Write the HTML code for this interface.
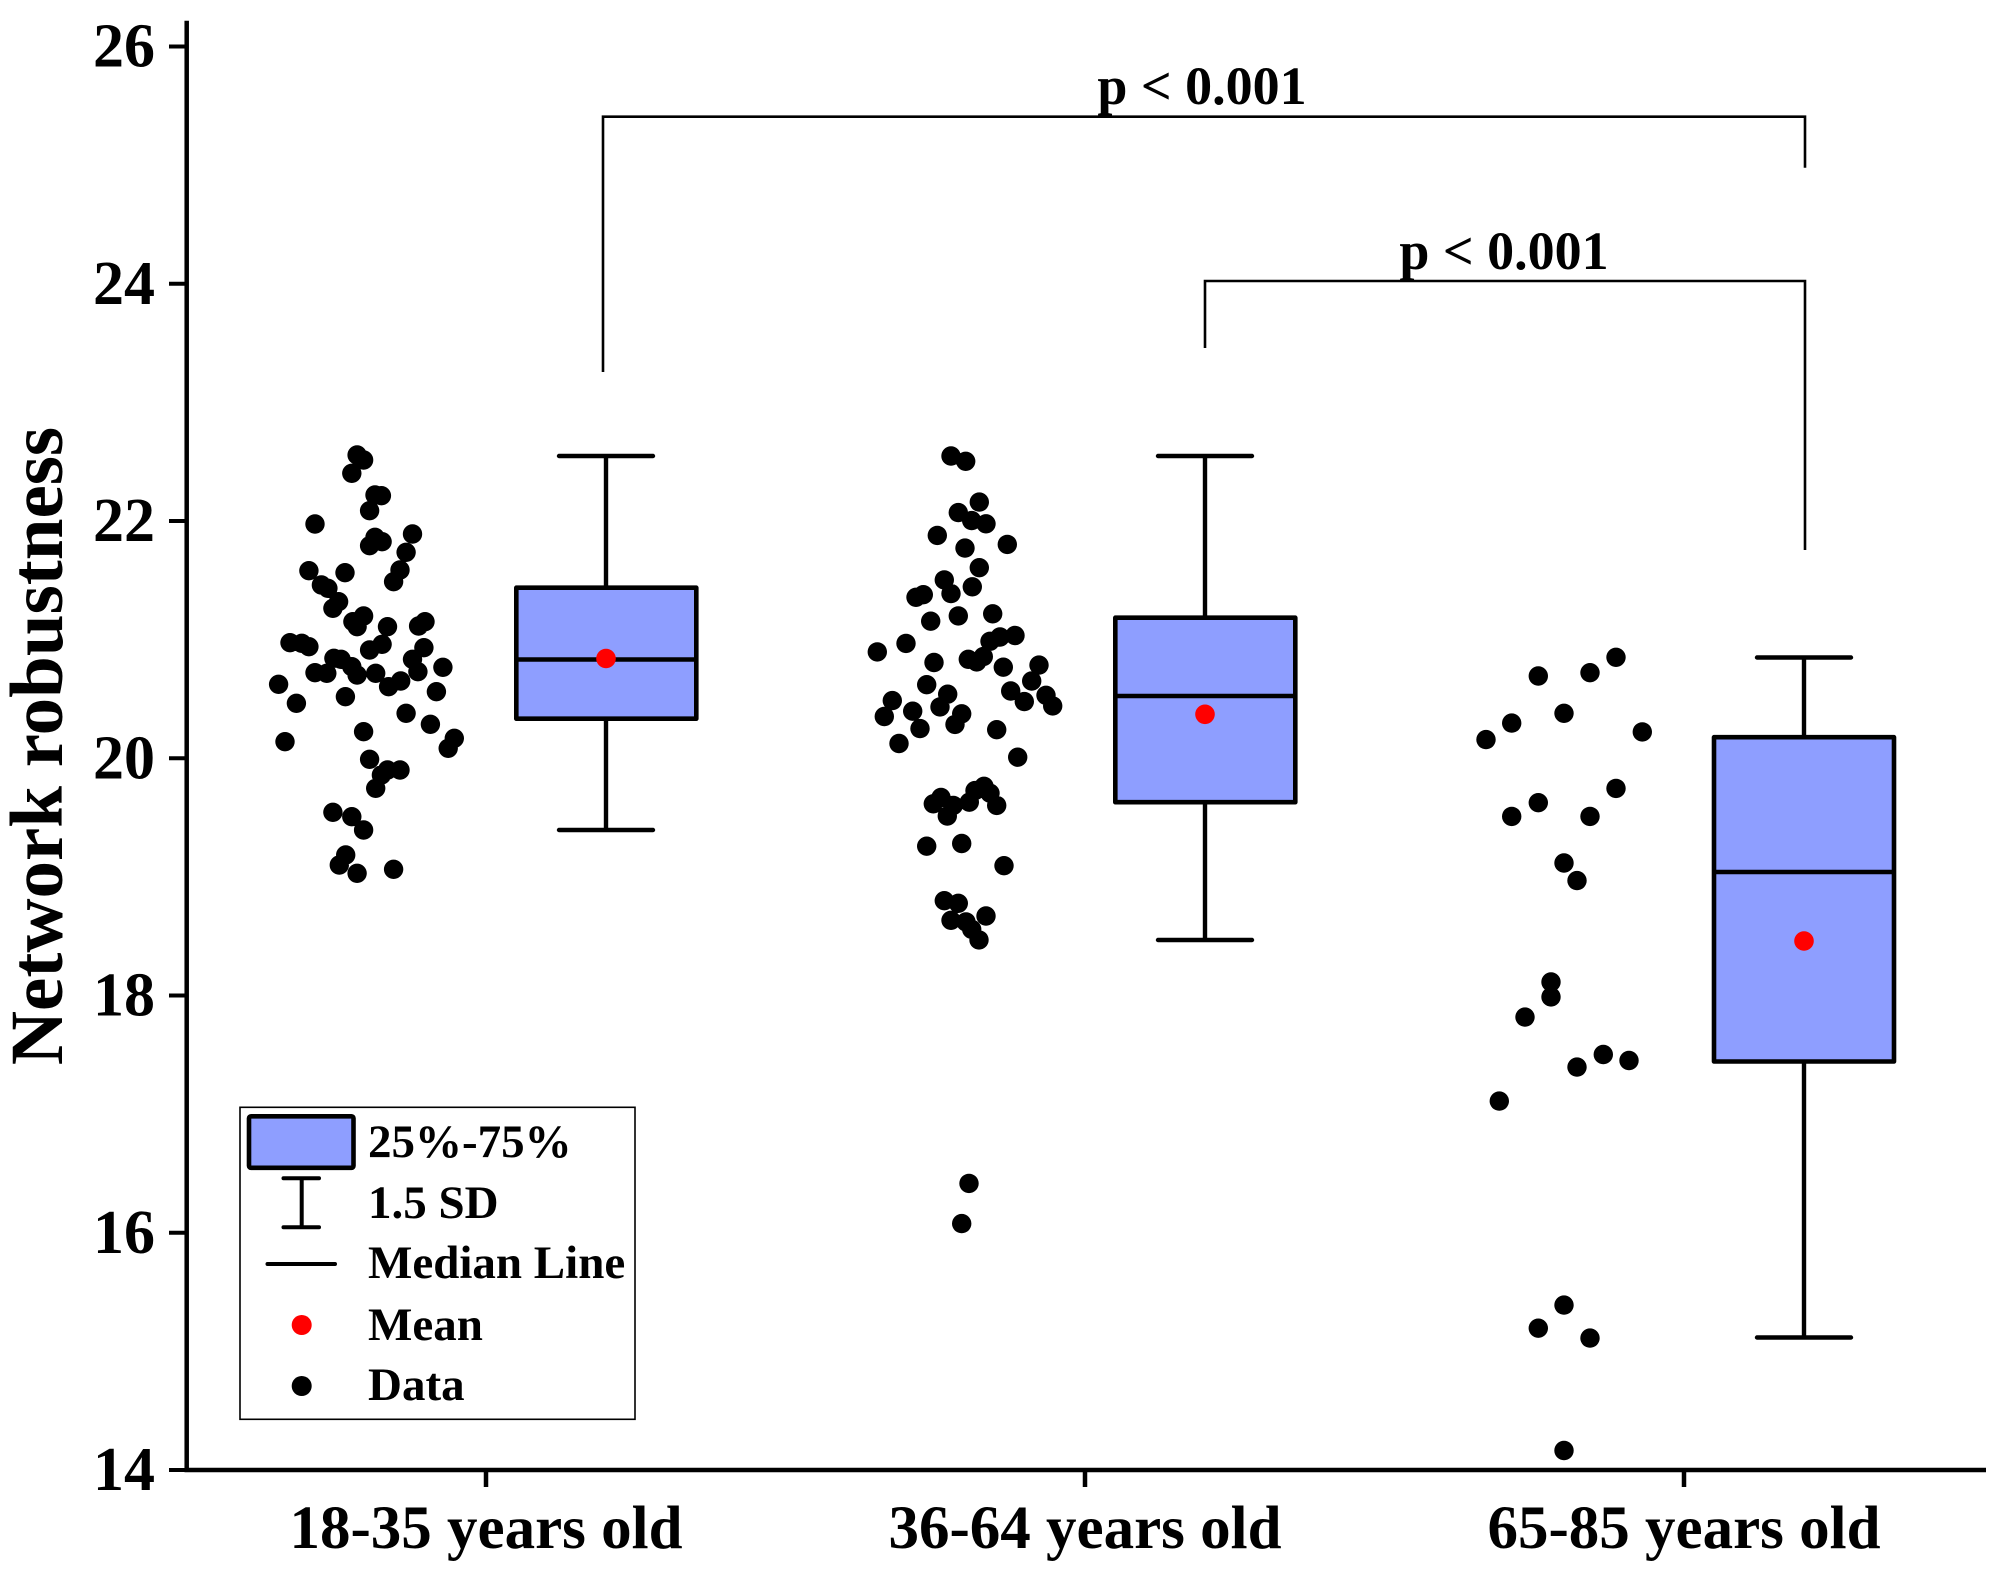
<!DOCTYPE html>
<html>
<head>
<meta charset="utf-8">
<style>
  html, body { margin:0; padding:0; background:#ffffff; }
  svg { display:block; }
  text { font-family: "Liberation Serif", "Times New Roman", serif; font-weight: bold; fill:#000; }
</style>
</head>
<body>
<svg width="2000" height="1569" viewBox="0 0 2000 1569" xmlns="http://www.w3.org/2000/svg">
  <rect x="0" y="0" width="2000" height="1569" fill="#ffffff"/>

  <line x1="186.7" y1="20.7" x2="186.7" y2="1472" stroke="#000" stroke-width="4.5"/>
  <line x1="184.5" y1="1470" x2="1986" y2="1470" stroke="#000" stroke-width="4.5"/>

  <path d="M169 46.5H187M169 283.75H187M169 521H187M169 758.25H187M169 995.5H187M169 1232.75H187M169 1470H187" stroke="#000" stroke-width="4"/>
  <g font-size="62" text-anchor="end">
    <text x="155" y="66.5">26</text>
    <text x="155" y="303.75">24</text>
    <text x="155" y="541">22</text>
    <text x="155" y="778.25">20</text>
    <text x="155" y="1015.5">18</text>
    <text x="155" y="1252.75">16</text>
    <text x="155" y="1490">14</text>
  </g>

  <path d="M486 1470V1487M1085 1470V1487M1684 1470V1487" stroke="#000" stroke-width="4.5"/>
  <g font-size="61" text-anchor="middle">
    <text x="486" y="1548">18-35 years old</text>
    <text x="1085" y="1548">36-64 years old</text>
    <text x="1684" y="1548">65-85 years old</text>
  </g>

  <text font-size="75" text-anchor="middle" transform="translate(62,746) rotate(-90)">Network robustness</text>

  <g stroke="#000" stroke-width="2.6" fill="none">
    <polyline points="603,372 603,116.7 1805,116.7 1805,167.7"/>
    <polyline points="1205,348 1205,281 1805,281 1805,550"/>
  </g>
  <g font-size="54" text-anchor="middle">
    <text x="1202" y="104">p &lt; 0.001</text>
    <text x="1504" y="269">p &lt; 0.001</text>
  </g>

  <path d="M606 456V587.5M606 718.5V830M559 456H653M559 830H653
           M1205 456V617.5M1205 802V940M1158 456H1252M1158 940H1252
           M1804 657.5V737M1804 1061.5V1337.5M1757 657.5H1851M1757 1337.5H1851"
        stroke="#000" stroke-width="4.4" stroke-linecap="round" fill="none"/>
  <g stroke="#000" stroke-width="4.6" fill="#8e9eff" stroke-linejoin="round">
    <rect x="516.3" y="587.7" width="180" height="131"/>
    <rect x="1115.3" y="617.7" width="180" height="184.5"/>
    <rect x="1714" y="737.2" width="180" height="324.3"/>
  </g>
  <path d="M518 659.5H694.6M1117 696H1293.6M1716 872H1892.3" stroke="#000" stroke-width="4.4"/>
  <path d="M606 658.5h0M1205 714.3h0M1804 941h0" stroke="#ff0000" stroke-width="19.6" stroke-linecap="round"/>

  <path stroke="#000" stroke-width="19.4" stroke-linecap="round" fill="none" d="
M357.1 455h0M363.6 460h0M351.8 473.3h0M375 495h0M381.4 495.7h0M369.6 510.7h0M315 524h0M412.5 534h0M375 537.3h0M382.1 541.7h0M369.6 545.7h0M406.1 552.3h0M400 570h0M393.6 581.7h0M308.9 570.7h0M345 572.7h0M321.4 585h0M327.9 588.3h0M338.6 601.7h0M332.9 608.3h0M363.6 616h0M352.9 621.7h0M357.1 626.7h0M387.5 626.7h0M425 621.7h0M418.6 626h0M290 642.7h0M301.8 643.3h0M308.9 646.7h0M382.1 644.3h0M369.6 650h0M423.9 647.7h0M333.9 658.3h0M341.1 659.3h0M351.8 666.7h0M412.5 659.3h0M315 672.7h0M326.8 673.3h0M357.1 675h0M375.7 673.3h0M417.9 671.7h0M442.9 667.3h0M278.6 684.3h0M400.7 681h0M388.6 686.7h0M296.4 703.3h0M345.4 696.7h0M436.4 691.7h0M406.1 713.3h0M430.4 724.3h0M285 741.7h0M363.6 731.7h0M454.3 738.3h0M448.2 748.3h0M369.6 759.3h0M387.5 770h0M400 770h0M381.4 775h0M375.7 788.3h0M332.9 812.3h0M351.8 816.7h0M363.6 830h0M345.7 855h0M339.3 865h0M357.1 873.3h0M393.6 869.3h0"/>

  <path stroke="#000" stroke-width="19.4" stroke-linecap="round" fill="none" d="
M951 456h0M965.7 461.3h0M979.3 502.1h0M958.3 512.6h0M971.7 520.6h0M986 523.8h0M937.3 535.4h0M1007.3 544.4h0M965 548.1h0M979.3 567.7h0M944.3 579.9h0M972.3 586.8h0M951 593.6h0M916 597.3h0M923.3 594.7h0M930.7 621.2h0M958.3 615.9h0M992.7 613.8h0M877.3 651.9h0M906 643.4h0M990 641.3h0M1000 637h0M1015 635.5h0M968.3 659.3h0M976.7 661.9h0M983.3 656.6h0M934 662.5h0M1003.3 667.2h0M1039 665.1h0M1031.7 681h0M926.7 684.7h0M1010.7 691h0M1024.3 701.6h0M1046 695.3h0M1052.7 705.9h0M892.3 700.6h0M947.7 694.2h0M940 706.9h0M912.7 711.2h0M884.3 716.5h0M961.7 713.8h0M955 724.4h0M920 728.6h0M996.7 729.7h0M899 743.5h0M1017.7 757.2h0M941 797.5h0M933.3 803.8h0M953.3 805.4h0M947.3 816h0M969.3 802.2h0M975 790.6h0M984 786.3h0M990 793.2h0M996.7 805.4h0M926.7 846.2h0M961.7 843.5h0M1004 865.7h0M944.3 900.7h0M958.3 903.3h0M951 920.3h0M966 921.9h0M986 916h0M971.7 929.3h0M979 939.9h0M969 1183.4h0M961.7 1223.6h0"/>

  <path stroke="#000" stroke-width="19.4" stroke-linecap="round" fill="none" d="
M1616 657.3h0M1538.3 676h0M1590 672.7h0M1564 713.3h0M1511.7 723.1h0M1486 739.6h0M1642.3 731.9h0M1616 788.4h0M1538.3 802.7h0M1511.7 816.4h0M1590 816.4h0M1564 863h0M1577 880.6h0M1551 982h0M1551 996.9h0M1525 1017.1h0M1577 1067.1h0M1603.3 1054.5h0M1629 1060.5h0M1499.3 1101.1h0M1564 1305.1h0M1538.3 1328.2h0M1590 1338.1h0M1564 1450.5h0"/>

  <rect x="240" y="1107.3" width="395" height="312" fill="#ffffff" stroke="#000" stroke-width="1.6"/>
  <rect x="249" y="1116.3" width="104.5" height="51.5" rx="2" fill="#8e9eff" stroke="#000" stroke-width="4.6"/>
  <path d="M301.7 1178.3V1227.3M283.5 1178.3H319M283.5 1227.3H319M267.5 1264H335" stroke="#000" stroke-width="4" stroke-linecap="round"/>
  <circle cx="301.7" cy="1325" r="10" fill="#ff0000"/>
  <circle cx="301.7" cy="1386" r="10" fill="#000"/>
  <g font-size="47">
    <text x="368" y="1157">25%-75%</text>
    <text x="368" y="1218">1.5 SD</text>
    <text x="368" y="1278">Median Line</text>
    <text x="368" y="1340">Mean</text>
    <text x="368" y="1400">Data</text>
  </g>
</svg>
</body>
</html>
